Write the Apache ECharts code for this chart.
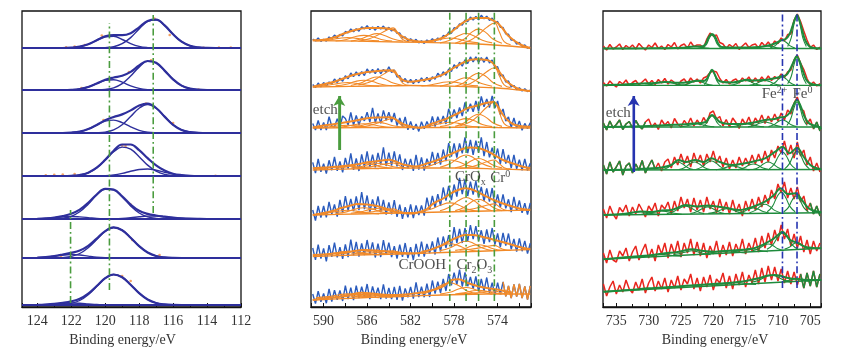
<!DOCTYPE html>
<html><head><meta charset="utf-8">
<script src="https://cdn.jsdelivr.net/npm/echarts@6/dist/echarts.min.js"></script>
<style>html,body{margin:0;padding:0;background:#fff}#c{width:857px;height:361px}</style>
</head><body><div id="c"></div>
<script>
// ---------------- Panel 1 (left) : fitted peaks on a 0.5 eV grid ----------------
const snE = [124,123.5,123,122.5,122,121.5,121,120.5,120,119.5,119,118.5,118,117.5,117,116.5,116,115.5,115,114.5,114,113.5];
const snOffset = [259,217,174,131,88,49,2];
const sn1 = [[0,0,0,0,0,0,0,0,0.3,1.3,4.3,10.4,19.1,26.6,28.2,22.6,13.7,6.3,2.2,0.6,0.1,0],
             [0,0,0,0,0.3,1.3,3.7,7.7,11.3,11.7,8.5,4.4,1.6,0.4,0.1,0,0,0,0,0,0,0]];
const sn2 = [[0,0,0,0,0,0,0,0.1,0.6,2.2,6.4,13.9,22.9,28.6,27.1,19.4,10.6,4.4,1.4,0.3,0,0],
             [0,0,0,0,0.2,1.0,3.0,6.4,9.6,10.3,7.8,4.2,1.6,0.4,0.1,0,0,0,0,0,0,0]];
const sn3 = [[0,0,0,0,0,0,0,0.2,0.9,3.1,8.2,16.4,24.8,28.5,24.8,16.4,8.2,3.1,0.9,0.2,0,0],
             [0,0,0,0,0.4,1.4,3.9,7.9,11.8,12.9,10.4,6.2,2.7,0.9,0.2,0,0,0,0,0,0,0]];
const sn4 = [[0,0,0,0,0.2,1.0,3.2,8.1,15.8,24.2,28.9,26.8,19.3,10.9,4.8,1.6,0.4,0.1,0,0,0,0],
             [0,0,0,0,0,0,0.1,0.2,0.4,1.1,2.6,4.7,6.5,7.0,5.8,3.8,1.9,0.8,0.2,0,0,0]];
const sn5 = [[0,0,0,0.8,2.7,7.2,14.8,23.9,29.9,29.2,22.1,13.1,6.0,2.2,0.6,0.1,0,0,0,0,0,0],
             [0,0,0,0,0,0,0,0,0,0.2,0.6,1.3,2.2,2.9,2.9,2.3,1.4,0.7,0.3,0.1,0,0],
             [0.2,0.6,1.4,2.1,2.5,2.1,1.4,0.6,0.2,0,0,0,0,0,0,0,0,0,0,0,0,0]];
const sn6 = [[0,0,0,0.4,1.6,4.5,10.3,18.5,26.6,30.5,27.8,20.3,11.8,5.5,2.0,0.6,0.1,0,0,0,0,0],
             [0.3,0.9,1.9,3.0,3.5,3.0,1.9,0.9,0.3,0.1,0,0,0,0,0,0,0,0,0,0,0,0]];
const sn7 = [[0,0,0,0.4,1.6,4.5,10.3,18.5,26.6,30.5,27.8,20.3,11.8,5.5,2.0,0.6,0.1,0,0,0,0,0],
             [0.2,0.5,1.1,1.7,2,1.7,1.1,0.5,0.2,0,0,0,0,0,0,0,0,0,0,0,0,0]];
const snDots = [
  [[122.3,0.8],[121.8,1.5],[121.2,3],[120.2,12.5],[117.1,29.5],[116.2,13],[114.2,0.3],[113.3,0.5],[112.6,0.4]],
  [[121.4,2],[118.6,18],[117.3,29.8],[114.5,0.5]],
  [[120.1,13],[117.9,27.5],[117.6,29.5],[116,10]],
  [[123.5,0.8],[123,1.2],[122.5,1.5],[121.8,2],[119,30.5],[118.8,30],[113.5,0.3]],
  [[123.2,0.6],[122.8,1],[122.3,2],[118.5,14.5],[117.5,5]],
  [[123.5,0.4],[122.6,1.2],[118.4,18],[116.8,3]],
  [[122.5,1.5],[119,29],[118.5,24]]
];
const snRefE = [119.75,117.17,122.04];
const snRefFrom = [17,94,4];
const snRefTo = [284,292,97];

// ---------------- Panel 2 (middle) : Cr 2p ----------------
const crRawStart = 591, crRawStep = 0.25;
const crOffset = [259,216,179,137,92,47,7];
const crRaw1 = [8.9,7.0,10.0,6.6,8.8,6.8,11,9.5,12.9,10.5,13.6,12.1,16.5,15.2,19,16.2,19.3,16.8,21.1,19.1,22.4,18.5,21,17.8,21.6,19.1,21.9,18.2,20.7,17,19,14.7,15,10.2,11.2,7.3,9.3,6.3,8.6,5.1,7.3,4.6,8,6.2,9.3,6.8,10,8.1,12.5,11.5,16,14.7,20.3,19.3,24.2,22.8,27.9,26.4,31,27.9,31.5,28.2,32.7,29.2,31.8,27.6,30,25.5,26.5,20.8,20.6,14.1,13.8,7.9,8.2,3.8,5.6,1.7,3,-0.2,0.8];
const crRaw2 = [6.5,3.4,8.0,4.1,8.5,4.9,9,7.2,12,8.5,12.8,9.8,15.3,12.2,18,14.4,19.2,15.1,19.4,15.4,22,17.8,21.5,17.3,22.5,17.2,21.6,18.5,24.2,18.5,21,14,15.3,9.5,12.5,8.1,11.5,7.3,11.5,8.3,13.2,9.4,13.7,9.7,14.2,11.7,17.7,14.2,19.2,15.8,22,19.6,26.3,22.8,28.8,24.8,31.3,27.5,34.1,29.2,34.2,28.5,33.3,28.7,34,28,31,23.5,24.2,15.3,16,9,10,4,5.5,1.3,3.2,0,2.2,-0.6,0.8];
const crRaw3 = [4.5,-2,7.5,-2,5.5,-2.1,11.3,1.7,1,9.4,0.8,12.1,9.5,3,15.5,3,12.5,3,11.6,7.1,15.7,5.9,20.1,5.3,14.5,4.6,17.6,7.7,15.7,6,15,2.5,10,1.5,11,-1.8,6.5,-1.8,3.9,-3.4,6.3,-0.7,6.4,0.5,11.5,1.4,11.2,4.1,12,4.1,19.2,9.4,18.5,10,20.5,12,25.5,16.4,24.2,16.1,27,16.8,31.5,21.3,29,20.5,32,20,27,13.5,19,7,11,0.5,10,0,7,-2.2,4.6,-0.6,5.3];
const crRaw4 = [7.7,-3.2,11,-1.9,6.3,-3.5,9.7,-0.2,13,-0.8,8.5,-2.3,12,1.4,16.7,0.1,11.5,-1,15.6,3.1,18.7,3,15.3,2.7,17,5.3,22.6,4,17.3,4.4,18.5,3.6,15.7,0,11.3,1.6,11,-0.9,15.2,0.4,12.5,-0.6,11.3,4.1,18,5.1,17.2,5.4,20.5,8.8,27,13.3,26.5,12.5,26.6,16.6,32.7,16.9,30,15.2,29.3,17.5,32.7,13.8,28,12.6,22.3,10.9,21.5,6.1,20.8,6.4,15,2,15.1,1.2,10.3,-0.3,11,-0.6,6.7];
const crRaw5 = [5,-5.5,9,-2.5,9,-2.4,13.2,0.8,10.5,-1.7,15.1,2,18.8,4.5,16.2,3.9,18.5,4.8,23,5.8,19.5,3,15.6,5.1,18.7,2.9,15.1,0.3,12.5,0.7,14.9,-1.9,10.3,-3.9,7.9,-2.3,10.5,-3,9.5,0,9.5,-0.6,17.3,5.1,19,7.4,20.8,9.1,27.5,14.3,29,14.8,30.5,18.3,37.1,20.9,35.7,19,33.3,20.5,33.8,17.5,28.2,13.8,26.5,13.3,27,8.8,20.5,7.6,20.6,6.7,15.7,2.9,18.1,4.3,14.5,2.1,11.8,0.4,12];
const crRaw6 = [12,0.1,15.3,1.4,11.5,-1.3,14.9,3.1,17.3,2.6,12.9,1.2,15.5,2.9,20.3,4.6,18,3.3,16.5,4.8,20,5.8,17.6,2.5,16.3,3,19.8,5.5,17.3,3,13.8,1.5,15.3,3.2,17,1.9,12.8,0,16.2,3.3,18.5,3.3,16,6.8,18.5,5.5,22.5,8.5,23.5,12.1,24.8,13.4,33,17,31,17,32,19,34.9,20.9,33.8,19.2,29.7,16.1,30.5,17.8,32,15.3,26.5,12.8,27,14.3,26.5,10.8,21,8.3,21.5,8.8,19.1,6.4,16.7];
const crRaw7 = [6,-3.6,8.8,-1.9,6.5,-3.2,11.2,-1.5,9.8,0.2,9.6,-1,14.4,0.9,12.4,-0.2,14.3,1.8,13.3,3.2,16,0.8,13.6,3.5,12.3,1,15.6,1.3,12,1,13.1,0.1,14.2,-0.6,11.6,2.8,13,1.3,17.6,3,13.3,2.8,16.4,3,19.5,6.4,18.3,7.1,21,9,26,14.7,27.3,15.4,30.5,13.5,27.5,13.8,23,11.2,23.5,8.7,21,9.2,22.5,7,17.4,4.9,17.3,5.7,18.2,3.6,14,1.8,15.5,3.3,16,1.8,13.5,0.3,14];
const crRawOrangeBelow = [null,null,null,null,null,null,573.5];
const crFit1 = [[591,7.7],[590,8.3],[589,10.7],[588,15],[587,18.3],[586,20],[585,20],[584,19.5],[583.5,17.5],[583,13.3],[582.5,10],[582,7.7],[581,6.3],[580,7.3],[579,10.7],[578,18.3],[577,26.7],[576,30],[575,30],[574.5,28],[574,25],[573.5,19],[573,12],[572,4],[571,0]];
const crFit2 = [[591,4.3],[590,6.7],[589,9.3],[588,13.3],[587,16.7],[586,19],[585,20],[584,20.7],[583.5,19],[583,13.3],[582.5,10],[582,9.3],[581,10.7],[580,12.7],[579,16.7],[578,23.3],[577,29.3],[576,31.7],[575,31],[574.5,28.5],[574,21.7],[573.5,14],[573,8],[572,1.7],[571,0]];
const crFit3 = [[591,0.5],[590,2.5],[588.5,4.7],[587,7.5],[586,9.7],[585,10.5],[583.9,10.7],[583.5,9.4],[583,6],[582.5,3],[581.5,0.5],[581,0.3],[580,4.5],[579,8],[578.3,11.3],[577.5,15.5],[576.8,19.7],[576,22],[575.4,24],[574.8,25.5],[574.4,26.3],[574,22],[573.5,13],[573,7],[572.5,3.5],[572,2],[571,1.3]];
const crFit4 = [[591,1.7],[590,2.5],[588.5,3.5],[587,5.5],[586,7.7],[585,9],[584,10.3],[583.5,9],[583,6.7],[582.5,5],[581.5,3.5],[580.5,6.5],[579.5,10],[578.5,15],[578,17.5],[577,21.7],[576.5,22.5],[575.7,21.7],[575,19],[574.4,15.5],[573.5,10],[573,8],[572,4.3],[571,1.7]];
const crFit5 = [[591,0],[590,2],[589,4.5],[588.5,6.7],[587.5,9.5],[586.9,11],[586,10.5],[585.1,9],[584,5.5],[583,2.3],[582,1.5],[581.5,2],[580.5,6],[579.9,11.7],[579,16.5],[578.3,21.7],[577.5,25.5],[577,26.7],[576.5,26],[575.9,23.3],[575.3,20],[574.7,16.7],[574,13.5],[573.1,10],[572,6.5],[571,5]];
const crFit6 = [[591,5],[590,5.5],[588.6,6.7],[587.5,8.5],[586.2,10],[585,9.3],[584,8.3],[583,7.3],[581.6,6.7],[580.5,9],[579.4,13.3],[578.5,18.5],[577.9,21.7],[577,25],[576.3,25],[575.7,24],[574.5,20.7],[573.3,17.3],[572.1,13.3],[571,10.7]];
const crFit7 = [[591,0],[590,1.5],[588.6,3.3],[587.5,5.5],[586.5,7.3],[585.5,6.5],[584,5],[582.5,5.5],[581.6,6.7],[580.5,8.5],[579.4,11.7],[578.7,16],[578.2,20],[577.6,20.7],[577,18.5],[576.7,16.7],[575.4,12.7],[574.2,10.7],[573,8],[572.7,7.5]];
const crBg1 = [[591,7.5],[587,6.8],[583,6],[579,5.2],[577,4.5],[575,3.5],[573,2],[571,0]];
const crBg2 = [[591,4],[585,5],[582,5.5],[579,5],[576,4],[574,3],[572,1],[571,0]];
const crBg3 = [[591,0],[583,0.5],[580,0.5],[576,1],[574,0.5],[571,0]];
const crBg4 = [[591,0],[586,1.5],[581,2],[577,2],[574,1],[571,0]];
const crBg5 = [[591,0],[587,1],[583,2],[579,3],[575,4],[571,5]];
const crBg6 = [[591,3.5],[587,5],[583,6],[579,7.5],[575,9],[571,10.5]];
const crBg7 = [[591,0],[587,2],[583,3.5],[579,5],[575,6],[571,6]];
// component energies: Cr0, CrOx, Cr2O3, CrOOH (2p3/2) then the same four (2p1/2)
const crCompE = [
  [577.5,576.5,575.7,575.0,574.3,573.85,573.4,572.8],
  [577.9,577.1,576.4,575.75,575.1,574.4,573.6],
  [579.3,578.4,577.6,576.9,576.2,575.4,574.5],
  [581.0,580.1,579.2,578.4,577.6,576.8,575.8],
  [586.8,585.8,585.0,584.3,583.6,583.15,582.7,582.1],
  [587.5,586.6,585.8,585.1,584.4,583.6,582.7],
  [588.9,587.9,587.1,586.3,585.5,584.7,583.7],
  [590.7,589.6,588.6,587.8,587.0,586.0,584.9]
];
const crComp1 = [[4.1,7.8,14,20.6,25,16.2,6.3,3.2],[4.8,8.7,15.6,18.9,15.6,8.7,4.8],[5.1,7.7,12.3,14.5,12.3,7.7,5.1],[5.3,6.6,8.9,10,8.9,6.6,5.3],[6.8,9.2,13.1,17.3,20.1,14.5,8.2,6.2],[6.9,9,12.6,14.4,12.6,9,6.9],[7,8.5,11.3,12.6,11.3,8.5,7],[7.1,8,9.6,10.4,9.6,8,7.1]];
const crComp2 = [[4.2,7.6,13.2,19.2,23.2,15.2,6.2,3.4],[4.6,8.3,14.7,17.8,14.7,8.3,4.6],[4.8,7.2,11.3,13.3,11.3,7.2,4.8],[5.1,6.2,8.3,9.3,8.3,6.2,5.1],[6.1,8.8,13.3,18.1,21.3,14.9,7.7,5.5],[5.5,7.9,12,14,12,7.9,5.5],[5.2,6.7,9.5,10.8,9.5,6.7,5.2],[4.7,5.8,7.6,8.5,7.6,5.8,4.7]];
const crComp3 = [[1.95,6.2,13.2,20.7,25.7,15.7,4.45,0.95],[1.6,5,10.9,13.8,10.9,5,1.6],[1.4,3.6,7.5,9.4,7.5,3.6,1.4],[1,2.3,4.6,5.7,4.6,2.3,1],[0.95,2.5,5,7.7,9.5,5.9,1.85,0.6],[0.7,2.2,4.7,5.9,4.7,2.2,0.7],[0.5,1.6,3.4,4.3,3.4,1.6,0.5],[0.35,1,2.15,2.7,2.15,1,0.35]];
const crComp4 = [[1.45,3,5.5,8.2,10,6.4,2.35,1.1],[2.1,4.7,9.3,11.5,9.3,4.7,2.1],[2.8,6.2,12.1,15,12.1,6.2,2.8],[2.5,4.6,8.2,10,8.2,4.6,2.5],[2.25,3.1,4.5,6,7,5,2.75,2.05],[2,3.3,5.6,6.7,5.6,3.3,2],[1.8,3.1,5.4,6.5,5.4,3.1,1.8],[1.2,2,3.3,4,3.3,2,1.2]];
const crComp5 = [[4.45,5.65,7.6,9.7,11.1,8.3,5.15,4.2],[4.4,7.5,13.1,15.7,13.1,7.5,4.4],[4.3,8,14.4,17.5,14.4,8,4.3],[3.6,6,10.1,12.1,10.1,6,3.6],[2.3,3,4.1,5.3,6.1,4.5,2.7,2.1],[1.8,3.1,5.4,6.5,5.4,3.1,1.8],[1.6,3.1,5.9,7.2,5.9,3.1,1.6],[1,2.1,3.9,4.8,3.9,2.1,1]];
const crComp6 = [[9.85,10.7,12.1,13.6,14.6,12.6,10.35,9.65],[9.65,11.2,14,15.3,14,11.2,9.65],[9.4,12,16.6,18.8,16.6,12,9.4],[8.7,10.8,14.4,16.2,14.4,10.8,8.7],[6.35,6.85,7.7,8.6,9.2,8,6.65,6.25],[5.95,7,8.8,9.7,8.8,7,5.95],[5.6,6.9,9.2,10.3,9.2,6.9,5.6],[4.95,6,7.8,8.7,7.8,6,4.95]];
const crComp7 = [[6.15,6.65,7.5,8.4,9,7.8,6.45,6],[6,7.1,8.9,9.8,8.9,7.1,6],[5.9,7.7,11,12.5,11,7.7,5.9],[5.9,9,14.6,17.2,14.6,9,5.9],[3.8,4,4.45,4.9,5.2,4.6,3.9,3.7],[3.3,3.85,4.75,5.2,4.75,3.85,3.3],[2.8,3.6,4.95,5.6,4.95,3.6,2.8],[2.35,3.4,5.2,6.1,5.2,3.4,2.35]];
const crRefE = [578.4,576.9,575.75,574.3];
const crRefFrom = [6,6,6,6];
const crRefTo = [296,296,296,296];
const crArrow = [588.56,157,211];
const crText = [[576.51,130,'CrO{sub|x}'],[573.75,129,'Cr{sup|0}'],[580.92,42,'CrOOH'],[576.14,42,'Cr{sub|2}O{sub|3}'],[589.84,197,'etch']];

// ---------------- Panel 3 (right) : Fe 2p ----------------
const feRawStart = 737, feRawStep = 0.5;
const feOffset = [258,221,180,137,92,47,15];
const feRaw1 = [3,-1,4.5,0,2,5,-0.5,3.5,1,4,0,5.5,2,-1,4,1.5,6,0.5,3,-0.5,4.5,2,6.5,0,3.5,5,1,7,2.5,4,4,1.5,10,16,13,14,6.5,5,0.5,4.5,2,5.5,-0.5,3,6,1.5,4,5,1,6.5,3,7,2.5,8,5.5,11,8,14.5,15,29,35,27.5,18,9,1.5,4,-0.5,2];
const feRaw2 = [3.5,0,5,1.5,-1,4.5,2,6,0.5,3.5,5.5,1,4,7,2,5.5,1.5,6.5,3,7.5,2,6,3.5,0.5,5,7,2.5,8,4,7,3,8,9.5,13.5,15,14,7.5,3,6.5,2,5.5,7,3,8,5,9,3.5,8,4,9,5,10,5.5,9.5,7,12,8.5,14,16,26,31,23,16.5,7.5,1,4,0,2.5];
const feRaw3 = [4,-3,6,-1,2.5,7,-2.5,3,5.5,-1,6.5,1,-2,5,8,0,4,-2.5,7,2,5.5,-1,8.5,3,0,6.5,2,9,1,7,2,9.5,4,14,16,8,10.5,1,7.5,0,9,4.5,-1.5,8,2.5,10,1,9,4,12,3.5,11,5,13,6,14,7,17,13,24,30,19,16,3,8,-2,5,-4];
const feRaw4 = [5,-4,8,-2,3,9,-5,4,7,-3,6,0,9.5,-3,4,10,1,7,-1,8,11,2,13,5,16,6,14,3,17,7,15,4,16,8,19,7,14,3,12,1,10,2,13,4,12,5,15,6,16,7,19,8,20,12,24,17,29,15,25,12,28,14,20,5,13,-1,7,-2];
const feRaw5 = [6,-3,9,1,-4,7.5,3,10,-1,8,1,11,5,-2,9,4,12,-1,10,6,13,1,14,4,18,7,16,3,17,5,15,3,18,6,14,2,16,4,13,1,15,3,11,-1,14,4,16,5,18,8,20,11,25,16,31,22,33,17,27,16,28,13,19,4,12,1,9,-1];
const feRaw6 = [7,-3,10,0,-2,9,4,12,-1,8,14,0,9,16,2,11,-1,15,6,17,2,16,6,19,3,17,7,21,5,18,4,17,2,14,6,19,3,15,5,18,4,16,8,21,6,17,9,22,8,24,12,27,15,30,19,35,21,31,14,26,12,24,8,20,6,19,9,17];
const feRaw7 = [8,-4,5,11,-2,7,0,12,3,-1,10,2,13,-1,9,15,1,11,3,14,0,12,4,16,2,13,8,18,3,14,1,15,5,17,2,13,9,19,4,16,3,18,7,20,5,17,9,22,8,24,10,26,12,25,11,23,9,21,8,20,7,18,4,19,6,21,5,18];
const feGreenAbove = [null,null,730.5,729,null,null,null];
const feGreenBelow = [null,null,704.5,null,705,null,706.5];
const feFit1 = [[737,0.5],[730,0.7],[725,1.2],[723,2.5],[721.8,2.5],[721.2,5],[720.7,12],[720.2,15],[719.7,12],[719.2,5],[718.7,2],[716,1.5],[713,2],[711.5,3.5],[710.3,6],[709.5,8.8],[708.8,10],[708.2,15],[707.7,24],[707.3,31],[707.05,34],[706.7,29],[706.3,20],[705.8,9],[705.2,3],[704.5,1],[703.3,0.5]];
const feFit2 = [[737,0.7],[734,1.5],[731,2.5],[729,3],[727.5,4],[726,3.3],[725,3.2],[723.8,4],[722.5,5.3],[721.5,5],[721,7],[720.6,12],[720.2,16.3],[719.8,12],[719.3,6],[718.5,4],[717,3.5],[715.5,5.5],[715,6.3],[714,5.5],[712.5,6],[711.5,6.5],[710.3,8],[709.5,9.7],[708.7,11],[708.1,17],[707.6,24],[707.1,29.7],[706.6,24],[706.1,14],[705.6,6],[705,2.5],[704,1],[703.3,0.7]];
const feFit3 = [[737,0],[733,0.5],[730,1],[727,2],[725,2.5],[722.5,3.7],[721.2,5],[720.7,9],[720.2,12],[719.6,9],[719,5],[717.5,3],[716,3],[714.6,3.7],[713.3,5],[712,7],[710.5,8],[709.8,9.5],[709,10],[708.2,14],[707.6,22],[707.05,27],[706.5,21],[706,12],[705.4,5],[704.7,2],[703.8,0.5],[703.3,-2]];
const feFit4 = [[737,0],[733,0.5],[730,1.5],[728,2.5],[726.5,5],[725.4,10],[724.2,8],[722.8,10],[721.5,8],[720.3,11.7],[719,8],[717.2,5],[715.1,6.7],[713.5,9],[712,11.7],[710.4,18.3],[709.3,23.3],[708.2,16.7],[707.05,22.3],[706,13],[705,5],[704,1.7],[703.3,1]];
const feFit5 = [[737,0],[734,1],[732.5,2.5],[731.2,3.5],[729.5,3],[728,4.5],[726.5,5],[724.3,10],[722.5,8.5],[720.9,9.5],[719.4,8.5],[717.9,7],[716,5],[713.75,8.5],[712,13.3],[710.6,20],[709.6,26.7],[708.5,21],[707.3,21.7],[706.3,15],[705.3,7],[704.3,4],[703.3,3]];
const feFit6 = [[737,0.7],[734,2.5],[732.6,3.3],[730,4.5],[727.5,6.7],[725.5,8],[723.3,10.7],[721.5,9],[719.7,8.3],[718,9],[716.1,10],[714.5,10.5],[713,13.3],[711,20],[710,25],[709.3,28.3],[708.6,24],[708.1,20],[707.05,17.3],[705.8,13.3],[704.5,12],[703.3,11.7]];
const feFit7 = [[737,0.3],[733,2],[730,3.7],[726,5.3],[722.3,7],[719,8.5],[717.2,9.3],[715,11],[713,13.7],[711.5,16.5],[710.5,17],[709.5,16],[708.9,14.7],[708,13.5],[707.05,13],[706,12.3],[704.8,12],[703.3,12]];
const feBg1 = [[737,0.5],[703.3,0.5]];
const feBg2 = [[737,0.6],[703.3,0.6]];
const feBg3 = [[737,0],[703.3,0]];
const feBg4 = [[737,0],[703.3,0.5]];
const feBg5 = [[737,0],[703.3,2.3]];
const feBg6 = [[737,0.7],[703.3,11.7]];
const feBg7 = [[737,0.3],[703.3,12]];
const feComp1 = [
  [[708.5,2.5],[707.95,11.1],[707.47,26.2],[707.05,33.5],[706.63,26.2],[706.15,11.1],[705.61,2.5]],
  [[711.22,1],[710.5,3.1],[709.86,6.7],[709.3,8.5],[708.74,6.7],[708.1,3.1],[707.38,1]],
  [[721.52,1.3],[721.03,4.8],[720.59,11],[720.2,14],[719.82,11],[719.38,4.8],[718.88,1.3]],
  [[714.1,0.65],[713.2,1.3],[712.4,2.45],[711.7,3],[711,2.45],[710.2,1.3],[709.3,0.65]],
  [[725.4,0.6],[724.5,1.1],[723.7,2.1],[723,2.5],[722.3,2.1],[721.5,1.1],[720.6,0.6]]];
const feComp2 = [
  [[708.5,2.2],[707.95,9.5],[707.47,22.3],[707.05,28.5],[706.63,22.3],[706.15,9.5],[705.61,2.2]],
  [[711.22,1],[710.5,3.2],[709.86,7.1],[709.3,9],[708.74,7.1],[708.1,3.2],[707.38,1]],
  [[721.4,1.4],[720.95,5.3],[720.55,12.2],[720.2,15.5],[719.85,12.2],[719.45,5.3],[719,1.4]],
  [[717.4,0.8],[716.5,2.1],[715.7,4.4],[715,5.5],[714.3,4.4],[713.5,2.1],[712.6,0.8]],
  [[714.4,0.8],[713.5,2.1],[712.7,4.4],[712,5.5],[711.3,4.4],[710.5,2.1],[709.6,0.8]],
  [[724.9,0.8],[724,1.9],[723.2,4],[722.5,5],[721.8,4],[721,1.9],[720.1,0.8]],
  [[730.6,0.7],[729.5,1.6],[728.4,3.2],[727.5,4],[726.6,3.2],[725.5,1.6],[724.4,0.7]]];
const feComp3 = [
  [[708.61,1.5],[708.03,8],[707.5,19.5],[707.05,25],[706.6,19.5],[706.08,8],[705.49,1.5]],
  [[711.46,0.4],[710.65,2.2],[709.93,5.5],[709.3,7],[708.67,5.5],[707.95,2.2],[707.14,0.4]],
  [[721.64,0.7],[721.1,3.5],[720.62,8.6],[720.2,11],[719.78,8.6],[719.3,3.5],[718.76,0.7]],
  [[714.64,0.3],[713.65,1.6],[712.77,3.9],[712,5],[711.23,3.9],[710.35,1.6],[709.36,0.3]],
  [[717.44,0.2],[716.45,1],[715.57,2.3],[714.8,3],[714.03,2.3],[713.15,1],[712.16,0.2]],
  [[725.14,0.2],[724.15,1],[723.27,2.3],[722.5,3],[721.73,2.3],[720.85,1],[719.86,0.2]]];
const feComp4 = [
  [[708.97,1.1],[708.25,6.1],[707.61,14.8],[707.05,19],[706.49,14.8],[705.85,6.1],[705.13,1.1]],
  [[711.34,1.1],[710.58,5.8],[709.9,14],[709.3,18],[708.7,14],[708.03,5.8],[707.26,1.1]],
  [[713.9,0.5],[713,2.6],[712.2,6.2],[711.5,8],[710.8,6.2],[710,2.6],[709.1,0.5]],
  [[716.2,0.4],[715.3,1.9],[714.5,4.7],[713.8,6],[713.1,4.7],[712.3,1.9],[711.4,0.4]],
  [[719.6,0.2],[718.7,1.3],[717.8,3.1],[717,4],[716.2,3.1],[715.4,1.3],[714.4,0.2]],
  [[722.7,0.5],[721.8,2.9],[721,7],[720.3,9],[719.6,7],[718.8,2.9],[717.9,0.5]],
  [[725.3,0.5],[724.4,2.6],[723.6,6.2],[722.9,8],[722.2,6.2],[721.4,2.6],[720.5,0.5]],
  [[727.9,0.5],[727,2.6],[726.2,6.2],[725.5,8],[724.8,6.2],[724,2.6],[723.1,0.5]]];
const feComp5 = [
  [[711.66,3.2],[710.85,8.6],[710.13,18.3],[709.5,22.9],[708.87,18.3],[708.15,8.6],[707.34,3.2]],
  [[709.12,3],[708.4,7.4],[707.76,15.3],[707.2,19],[706.64,15.3],[706,7.4],[705.28,3]],
  [[714.4,2.2],[713.5,4.6],[712.7,8.7],[712,10.7],[711.3,8.7],[710.5,4.6],[709.6,2.2]],
  [[716.2,1.9],[715.3,3.4],[714.5,5.9],[713.8,7.1],[713.1,5.9],[712.3,3.4],[711.4,1.9]],
  [[720.78,1.6],[719.7,2.9],[718.74,5.2],[717.9,6.3],[717.06,5.2],[716.1,2.9],[715.02,1.6]],
  [[723.54,1.5],[722.55,3.3],[721.67,6.6],[720.9,8.1],[720.13,6.6],[719.25,3.3],[718.26,1.5]],
  [[727.18,1.4],[726.1,3.5],[725.14,7.1],[724.3,8.9],[723.46,7.1],[722.5,3.5],[721.42,1.4]],
  [[731.12,0.8],[729.95,1.7],[728.91,3.3],[728,4.1],[727.09,3.3],[726.05,1.7],[724.88,0.8]],
  [[734.18,0.6],[733.1,1.4],[732.14,2.7],[731.3,3.4],[730.46,2.7],[729.5,1.4],[728.42,0.6]]];
const feComp6 = [
  [[711.7,10.7],[710.8,15.1],[710,23],[709.3,26.7],[708.6,23],[707.8,15.1],[706.9,10.7]],
  [[708.97,10.9],[708.25,12.7],[707.61,16],[707.05,17.5],[706.49,16],[705.85,12.7],[705.13,10.9]],
  [[713.9,9.4],[713,11.2],[712.2,14.5],[711.5,16],[710.8,14.5],[710,11.2],[709.1,9.4]],
  [[716.84,8.3],[715.85,9.2],[714.97,10.8],[714.2,11.6],[713.43,10.8],[712.55,9.2],[711.56,8.3]],
  [[721.1,7],[719.95,7.7],[718.9,8.9],[718,9.4],[717.1,8.9],[716.05,7.7],[714.9,7]],
  [[726.18,5.4],[725.1,6.5],[724.14,8.3],[723.3,9.2],[722.46,8.3],[721.5,6.5],[720.42,5.4]],
  [[731.12,3.7],[729.95,4.2],[728.91,5.2],[728,5.6],[727.09,5.2],[726.05,4.2],[724.88,3.7]]];
const feComp7 = [
  [[714.12,9.75],[712.95,11.7],[711.91,15.2],[711,16.8],[710.09,15.2],[709.05,11.7],[707.88,9.75]],
  [[709.12,10.85],[708.4,11.5],[707.76,12.65],[707.2,13.2],[706.64,12.65],[706,11.5],[705.28,10.85]],
  [[719.6,7.5],[718.45,8],[717.4,9],[716.5,9.4],[715.6,9],[714.55,8],[713.4,7.5]]];
const feRefE = [709.3,707.05];
const feRefFrom = [19,19];
const feRefTo = [296,296];
const feArrow = [732.32,135,211];
const feText = [[710.54,213,'Fe{sup|2+}'],[706.2,213,'Fe{sup|0}'],[734.69,194,'etch']];

// ---------------- build ----------------
const FONT = '"Liberation Serif","Times New Roman",serif';
const C = {navy:'#2e2f9c', dot:'#f08a3c', orange:'#f28a28', blue:'#2a5bbd', gdash:'#4a9c3e',
           red:'#e8261e', green:'#1e8b3c', fdash:'#2634b0'};
const DASHDOT = [7,3,1.8,3];
const series = [];
function ln(gi, data, color, width, extra) {
  series.push(Object.assign({type:'line', xAxisIndex:gi, yAxisIndex:gi, data, symbol:'none', showSymbol:false,
    silent:true, animation:false, lineStyle:{color, width}, z:3}, extra||{}));
}
const off = (arr, o) => arr.map(p => [p[0], p[1] + o]);

// panel 1
const snSpectra = [sn1,sn2,sn3,sn4,sn5,sn6,sn7];
snSpectra.forEach((comps, s) => {
  const o = snOffset[s];
  comps.forEach(c => ln(0, snE.map((e,i)=>[e, o + c[i]]), C.navy, 1.4, {smooth:0.4}));
  const env = snE.map((e,i)=>[e, o + comps.reduce((a,c)=>a+c[i],0)]);
  ln(0, env, C.navy, 2.2, {smooth:0.4, z:4, markLine:{silent:true, symbol:'none', animation:false, label:{show:false},
    lineStyle:{color:C.navy, width:1.8, type:'solid'}, data:[{yAxis:o}]}});
  series.push({type:'scatter', xAxisIndex:0, yAxisIndex:0, silent:true, animation:false, symbolSize:2.6,
    itemStyle:{color:C.dot}, z:2, data: off(snDots[s], o)});
});
snRefE.forEach((e,i)=>ln(0, [[e, snRefFrom[i]],[e, snRefTo[i]]], C.gdash, 1.6, {lineStyle:{color:C.gdash,width:1.6,type:DASHDOT}, z:5}));

// panel 2
const crRaw = [crRaw1,crRaw2,crRaw3,crRaw4,crRaw5,crRaw6,crRaw7];
const crFit = [crFit1,crFit2,crFit3,crFit4,crFit5,crFit6,crFit7];
const crBg = [crBg1,crBg2,crBg3,crBg4,crBg5,crBg6,crBg7];
const crComp = [crComp1,crComp2,crComp3,crComp4,crComp5,crComp6,crComp7];
crRaw.forEach((raw, s) => {
  const o = crOffset[s];
  const pts = raw.map((v,i)=>[crRawStart - crRawStep*i, o + v]);
  ln(1, pts, C.blue, 1.4, {z:2});
  if (crRawOrangeBelow[s] != null) ln(1, pts.filter(p=>p[0] <= crRawOrangeBelow[s]), C.orange, 1.4, {z:3});
  ln(1, off(crBg[s], o), C.orange, 1.3, {smooth:0.3, z:3});
  crComp[s].forEach((c,k)=> ln(1, crCompE[k].map((e,j)=>[e, o + c[j]]), C.orange, 1.1, {smooth:0.45, z:3}));
  ln(1, off(crFit[s], o), C.orange, 2.0, {smooth:0.35, z:4});
});
crRefE.forEach((e,i)=>ln(1, [[e, crRefFrom[i]],[e, crRefTo[i]]], C.gdash, 1.6, {lineStyle:{color:C.gdash,width:1.6,type:DASHDOT}, z:5}));

// panel 3
const feRaw = [feRaw1,feRaw2,feRaw3,feRaw4,feRaw5,feRaw6,feRaw7];
const feFit = [feFit1,feFit2,feFit3,feFit4,feFit5,feFit6,feFit7];
const feBg = [feBg1,feBg2,feBg3,feBg4,feBg5,feBg6,feBg7];
const feComp = [feComp1,feComp2,feComp3,feComp4,feComp5,feComp6,feComp7];
feRaw.forEach((raw, s) => {
  const o = feOffset[s];
  const pts = raw.map((v,i)=>[feRawStart - feRawStep*i, o + v]);
  ln(2, pts, C.red, 1.5, {z:2});
  if (feGreenAbove[s] != null) ln(2, pts.filter(p=>p[0] >= feGreenAbove[s]), C.green, 1.5, {z:3});
  if (feGreenBelow[s] != null) ln(2, pts.filter(p=>p[0] <= feGreenBelow[s]), C.green, 1.5, {z:3});
  ln(2, off(feBg[s], o), C.green, 1.4, {z:3});
  feComp[s].forEach(c => ln(2, off(c, o), C.green, 1.1, {smooth:0.45, z:3}));
  ln(2, off(feFit[s], o), C.green, 2.0, {smooth:0.35, z:4});
});
feRefE.forEach((e,i)=>ln(2, [[e, feRefFrom[i]],[e, feRefTo[i]]], C.fdash, 1.6, {lineStyle:{color:C.fdash,width:1.6,type:DASHDOT}, z:5}));

// arrows & text
function arrow(gi, a, color) {
  ln(gi, [[a[0],a[1]],[a[0],a[2]]], color, 2.2, {z:6, markLine:{silent:true, animation:false, symbol:['none','arrow'], symbolSize:[9,10],
    label:{show:false}, lineStyle:{color, width:2.2, type:'solid'}, data:[[{coord:[a[0],a[1]]},{coord:[a[0],a[2]]}]]}});
}
arrow(1, crArrow, '#4a9c3e');
arrow(2, feArrow, '#2634b0');
const rich = {
  sub:{fontFamily:FONT, fontSize:10, color:'#222', verticalAlign:'bottom', lineHeight:20},
  sup:{fontFamily:FONT, fontSize:10, color:'#222', verticalAlign:'top', lineHeight:12}
};
function texts(gi, list) {
  series.push({type:'scatter', xAxisIndex:gi, yAxisIndex:gi, silent:true, animation:false, symbolSize:1,
    itemStyle:{color:'rgba(0,0,0,0)'}, z:10,
    data: list.map(t=>({value:[t[0],t[1]], name:t[2]})),
    label:{show:true, position:'inside', formatter:p=>p.name, fontFamily:FONT, fontSize:15, color:'#222', lineHeight:18, rich}});
}
texts(1, crText);
texts(2, feText);

function xAx(gi, min, max, step, minor, fmt, pad) {
  return {type:'value', gridIndex:gi, inverse:true, min, max, minInterval:step, maxInterval:step, splitNumber:30,
    axisLine:{show:true, onZero:false, lineStyle:{color:'#111', width:1.3}},
    axisTick:{show:true, inside:true, length:4, lineStyle:{color:'#111', width:1}},
    minorTick:{show:minor>1, splitNumber:minor, length:3, lineStyle:{color:'#111', width:1}},
    splitLine:{show:false}, minorSplitLine:{show:false},
    axisLabel:{formatter:fmt, fontFamily:FONT, fontSize:14, color:'#333', margin:7},
    name:'Binding energy/eV', nameLocation:'middle', nameGap:21,
    nameTextStyle:{fontFamily:FONT, fontSize:14, color:'#333', padding:pad}};
}
const near = (v,k)=>Math.abs(v-Math.round(v))<1e-6 && Math.round(v)%k===0;
const xAxes = [
  xAx(0, 112, 124.9, 2, 2, v => near(v,2) && v<=124 ? String(Math.round(v)) : '', [0,18,0,0]),
  xAx(1, 570.93, 591.16, 2, 1, v => near(v,2) && (Math.round(v)-574)%4===0 && v>=574 ? String(Math.round(v)) : '', [0,14,0,0]),
  xAx(2, 703.34, 737.06, 5, 2, v => near(v,5) && v>=705 && v<=735 ? String(Math.round(v)) : '', [0,0,0,6])
];
const yAxes = [0,1,2].map(gi=>({type:'value', gridIndex:gi, min:0, max:296, show:false}));
const grid = [[22,219],[311,220],[603,218]].map(g=>({left:g[0], top:11, width:g[1], height:296, show:true,
  borderColor:'#111', borderWidth:1.3, backgroundColor:'transparent', containLabel:false, outerBoundsMode:'none'}));

const chart = echarts.init(document.getElementById('c'), null, {renderer:'canvas'});
chart.setOption({animation:false, backgroundColor:'#fff', grid, xAxis:xAxes, yAxis:yAxes, series});
</script></body></html>
